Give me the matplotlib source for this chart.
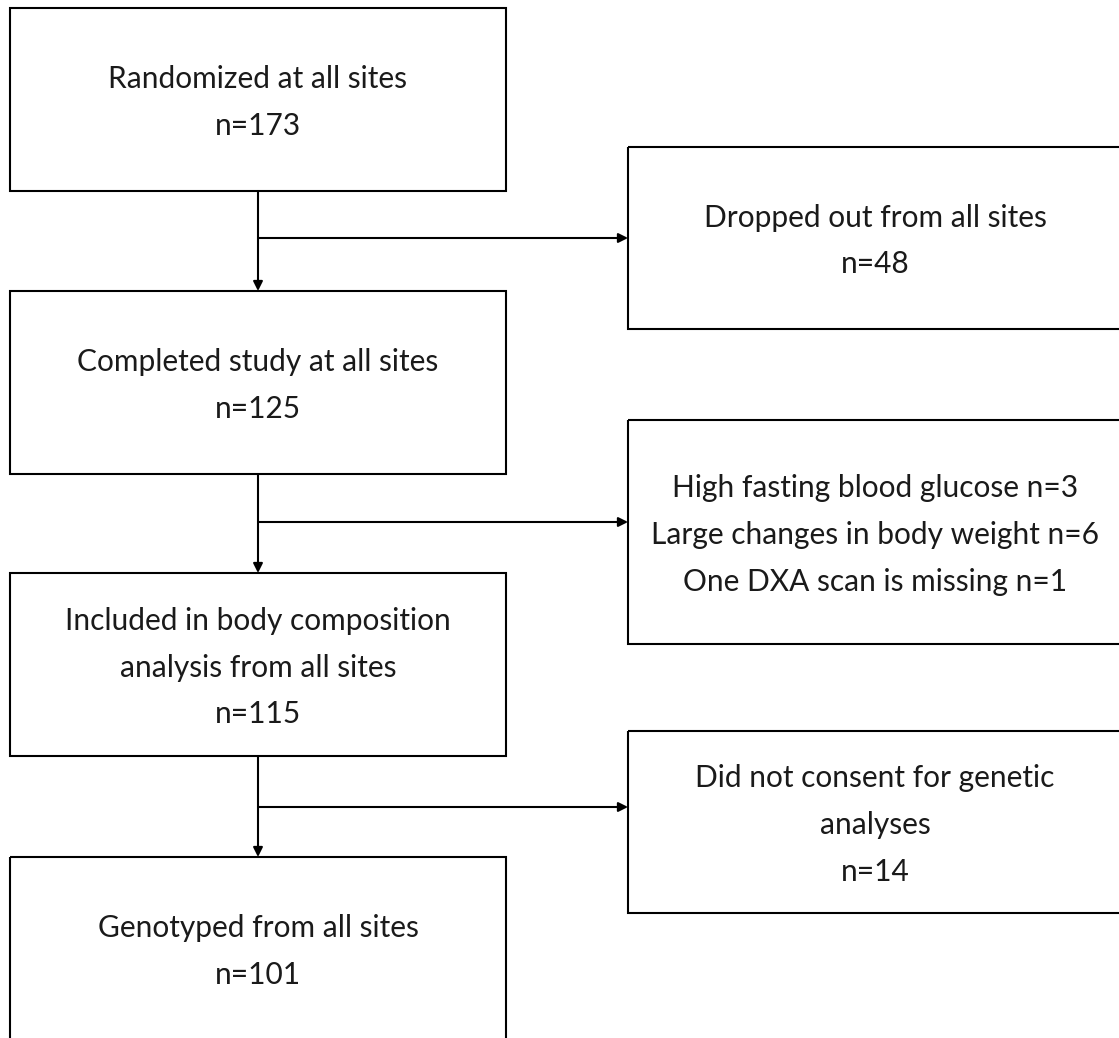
"""
Participant flow diagram (randomized -> genotyped).
"""
import matplotlib
matplotlib.use("Agg")
import matplotlib.pyplot as plt
from matplotlib.patches import Rectangle, FancyArrowPatch

# --- data ---
main_labels = [
    "Randomized at all sites",
    "Completed study at all sites",
    "Included in body composition\nanalysis from all sites",
    "Genotyped from all sites",
]
main_n = [173, 125, 115, 101]

excl_labels = [
    "Dropped out from all sites",
    None,
    "Did not consent for genetic\nanalyses",
]
excl_n = [48, None, 14]
bmi_reasons = ["High fasting blood glucose", "Large changes in body weight",
               "One DXA scan is missing"]
bmi_reason_n = [3, 6, 1]

# --- layout (pixel coords, y down) ---
W, H = 1119, 1038
LEFT_X0, LEFT_X1 = 10, 506
RIGHT_X0, RIGHT_X1 = 628, 1122
main_top = [8, 291, 573, 857]
main_h = 183
excl_top = [147, 420, 731]
excl_h = [182, 224, 182]
arrow_y = [238, 522, 807]
spine_x = (LEFT_X0 + LEFT_X1) / 2

FONT = "Lato"
FS = 21.5
LW = 1.5

fig = plt.figure(figsize=(W / 100, H / 100), dpi=100)
ax = fig.add_axes([0, 0, 1, 1])
ax.set_xlim(0, W)
ax.set_ylim(H, 0)
ax.axis("off")


def box(x0, x1, y0, h, text):
    ax.add_patch(Rectangle((x0, y0), x1 - x0, h, fill=False,
                           edgecolor="black", lw=LW, clip_on=False))
    ax.text((x0 + x1) / 2, y0 + h / 2 + 3, text, ha="center", va="center",
            fontsize=FS, family=FONT, color="#1a1a1a", linespacing=1.82)


def arrow(p0, p1):
    ax.add_patch(FancyArrowPatch(p0, p1, arrowstyle="-|>", mutation_scale=14,
                                 color="black", lw=LW, shrinkA=0, shrinkB=0))


for i, (lab, n) in enumerate(zip(main_labels, main_n)):
    box(LEFT_X0, LEFT_X1, main_top[i], main_h, f"{lab}\nn={n}")

excl_texts = []
for lab, n in zip(excl_labels, excl_n):
    if lab is None:
        lab = "\n".join(f"{r} n={k}" for r, k in zip(bmi_reasons, bmi_reason_n))
        excl_texts.append(lab)
    else:
        excl_texts.append(f"{lab}\nn={n}")

for i, txt in enumerate(excl_texts):
    box(RIGHT_X0, RIGHT_X1, excl_top[i], excl_h[i], txt)

# vertical arrows between main boxes, side arrows to exclusions
for i in range(len(main_top) - 1):
    arrow((spine_x, main_top[i] + main_h), (spine_x, main_top[i + 1]))
    arrow((spine_x, arrow_y[i]), (RIGHT_X0, arrow_y[i]))

fig.savefig("out.png", dpi=100, facecolor="white")
